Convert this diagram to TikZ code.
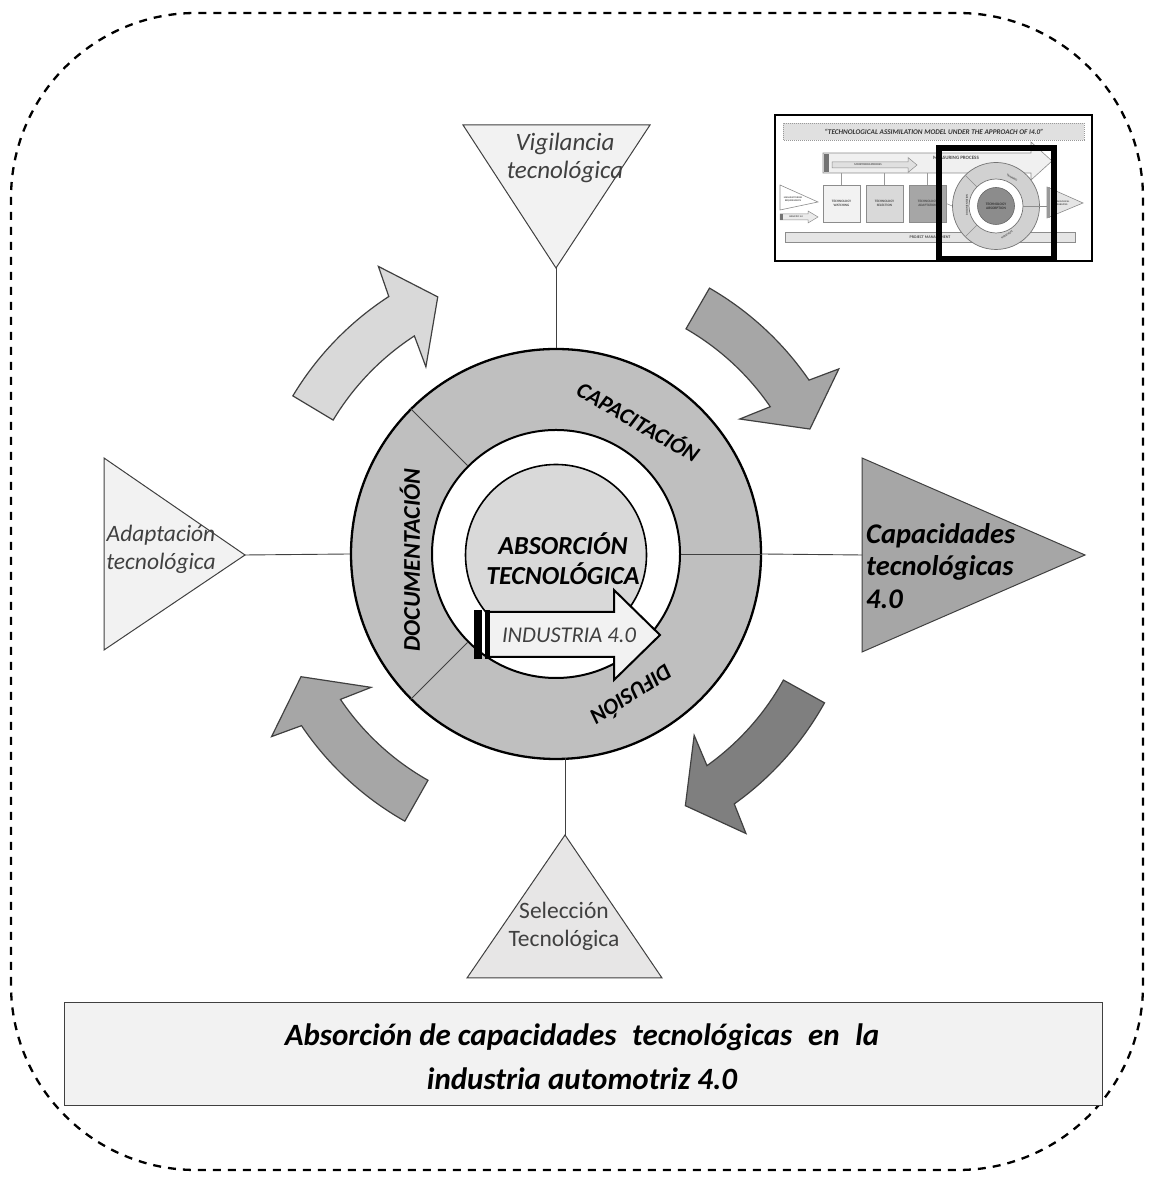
\documentclass[tikz,border=0pt]{standalone}
\usepackage{fontspec}
\setmainfont{Carlito}
\usetikzlibrary{calc}
\definecolor{ringgray}{HTML}{BFBFBF}
\definecolor{discgray}{HTML}{D9D9D9}
\definecolor{lightfill}{HTML}{F2F2F2}
\definecolor{midgray}{HTML}{A6A6A6}
\definecolor{darkfill}{HTML}{7F7F7F}
\definecolor{txtgray}{HTML}{404040}
\definecolor{selfill}{HTML}{E7E6E6}
\newcommand\mycircarrow[3]{%
  \filldraw[carrow, fill=#3] (#1:307) arc[start angle=#1,end angle=#2,radius=307]
    -- ({#2-1.3}:338) -- ({#2-8.3}:283) -- ({#2+1.8}:228) -- (#2:260)
    arc[start angle=#2,end angle=#1,radius=260] -- cycle;}
\begin{document}
\begin{tikzpicture}[x=1pt,y=1pt,
  tri/.style={draw=txtgray, line width=1pt},
  lbl/.style={font=\fontsize{23.5}{28}\selectfont\itshape, text=txtgray, align=center, inner sep=0pt},
  ringlbl/.style={font=\fontsize{22.5}{26}\selectfont\bfseries\itshape, inner sep=0pt},
  conn/.style={draw=txtgray, line width=0.9pt},
  carrow/.style={draw=txtgray, line width=1.2pt, line join=miter},
  tiny/.style={font=\fontsize{3.4}{3.8}\selectfont\bfseries, align=center, inner sep=0pt, text=black!70},
  ibox/.style={draw=black!45, line width=0.6pt, minimum width=37pt, minimum height=37pt, inner sep=0pt,
    font=\fontsize{3.4}{4}\selectfont\bfseries, align=center, text=black!70},
]
\useasboundingbox (0,0) rectangle (1154,1180);
% outer dashed frame
\draw[dash pattern=on 8pt off 7pt, line width=2.3pt, rounded corners=185pt] (11,10) rectangle (1143,1167);

% curved arrows
\begin{scope}[shift={(556,626)}]
  \mycircarrow{149}{123}{discgray}
  \mycircarrow{60}{34.5}{midgray}
  \mycircarrow{-29}{-54.5}{darkfill}
  \mycircarrow{240.5}{214}{midgray}
\end{scope}

% ring
\coordinate (C) at (556,626);
\node[circle, draw, line width=2.3pt, fill=ringgray, minimum size=410pt, inner sep=0pt] (outer) at (C) {};
\node[circle, draw, line width=2pt, fill=white, minimum size=248pt, inner sep=0pt] (inner) at (C) {};
\draw[conn] (inner.0) -- (outer.0);
\draw[conn] (inner.135) -- (outer.135);
\draw[conn] (inner.225) -- (outer.225);
\node[circle, draw, line width=1.6pt, fill=discgray, minimum size=181pt, inner sep=0pt] (disc) at (556,625) {};
\node[font=\fontsize{26}{30}\selectfont\bfseries\itshape, align=center, inner sep=0pt] (abs) at (563,621) {ABSORCIÓN\\TECNOLÓGICA};

% ring labels
\node[ringlbl, rotate=-30] (lcap) at (639,759) {CAPACITACIÓN};
\node[ringlbl, font=\fontsize{24}{26}\selectfont\bfseries\itshape, rotate=90] (ldoc) at (410,620) {DOCUMENTACIÓN};
\node[ringlbl, rotate=212.7] (ldif) at (632,484) {DIFUSIÓN};

% Industria 4.0 arrow
\filldraw[draw=black, line width=2pt, fill=lightfill, line join=miter]
  (488,568) -- (614,568) -- (614,590) -- (660,545) -- (614,500) -- (614,523) -- (488,523) -- cycle;
\fill[black] (474,521) rectangle (482,570);
\fill[black] (485,521) rectangle (490,570);
\node[font=\fontsize{22.5}{26}\selectfont\itshape, text=txtgray, inner sep=0pt] (ind) at (569,545) {INDUSTRIA 4.0};

% triangles
\coordinate (vigA) at (463,1055); \coordinate (vigB) at (650,1055); \coordinate (vigApex) at (556,912);
\filldraw[tri, fill=lightfill] (vigA) -- (vigB) -- (vigApex) -- cycle;
\node[lbl, font=\fontsize{25}{28}\selectfont\itshape] (vig) at (565,1022) {Vigilancia\\tecnológica};

\coordinate (adaA) at (104,722); \coordinate (adaB) at (104,530); \coordinate (adaApex) at (245,625);
\filldraw[tri, fill=lightfill] (adaA) -- (adaApex) -- (adaB) -- cycle;
\node[lbl] (ada) at (161,631) {Adaptación\\tecnológica};

\coordinate (capA) at (862,722); \coordinate (capB) at (862,528); \coordinate (capApex) at (1085,625);
\coordinate (capBase) at (862,625);
\filldraw[tri, fill=midgray] (capA) -- (capApex) -- (capB) -- cycle;
\node[font=\fontsize{28.5}{32.5}\selectfont\bfseries\itshape, align=left, anchor=west, inner sep=0pt] (capt) at (866,614) {Capacidades\\tecnológicas\\4.0};

\coordinate (selApex) at (565,345); \coordinate (selA) at (467,202); \coordinate (selB) at (662,202);
\filldraw[tri, fill=selfill] (selApex) -- (selB) -- (selA) -- cycle;
\node[lbl, font=\fontsize{23.5}{28}\selectfont\upshape] (sel) at (564,254) {Selección\\Tecnológica};

% connectors
\coordinate (ringB) at (565,422);
\draw[conn] (vigApex) -- (outer.90);
\draw[conn] (adaApex) -- (outer.180);
\draw[conn] (outer.0) -- (capBase);
\draw[conn] (ringB) -- (selApex);

% caption box
\node[draw=txtgray, line width=1pt, fill=lightfill, minimum width=1038pt, minimum height=103pt, inner sep=0pt] (capbox) at (583,125.5) {};
\node[font=\fontsize{31}{44}\selectfont\bfseries\itshape, align=center, inner sep=0pt] (captxt) at (582,123) {Absorción de capacidades\hspace{0.28em} tecnológicas\hspace{0.28em} en\hspace{0.28em} la\\industria automotriz 4.0};

% ===== inset =====
\draw[line width=1.3pt, fill=white] (775,919) rectangle (1092,1065);
\draw[dash pattern=on 1pt off 1pt, draw=black!40, fill=black!12, line width=0.6pt] (783,1040) rectangle (1084,1057);
\node[font=\fontsize{7.2}{8}\selectfont\bfseries\itshape, inner sep=0pt, text=black!80] (ititle) at (934,1048.5) {“TECHNOLOGICAL ASSIMILATION MODEL UNDER THE APPROACH OF I4.0”};
\draw[draw=black!45, fill=black!6, line width=0.6pt, line join=miter]
  (823,1007) -- (1031,1007) -- (1031,1000) -- (1052,1019) -- (1031,1038) -- (1031,1027) -- (823,1027) -- cycle;
\fill[black!55] (824,1008) rectangle (829,1026);
\node[tiny, font=\fontsize{5}{6}\selectfont\bfseries] (imeas) at (956,1022) {MEASURING PROCESS};
\draw[draw=black!45, fill=black!12, line width=0.5pt, line join=miter]
  (832,1012) -- (908,1012) -- (908,1007.5) -- (917,1015) -- (908,1022.5) -- (908,1018) -- (832,1018) -- cycle;
\node[tiny, font=\fontsize{2.8}{3}\selectfont\bfseries] (imon) at (868,1015) {MONITORING PROCESS};
\draw[draw=black!45, fill=black!10, line width=0.6pt] (785,938) rectangle (1075,948);
\node[tiny, font=\fontsize{4}{5}\selectfont\bfseries] (ipm) at (930,943) {PROJECT MANAGEMENT};
\node[ibox, fill=lightfill] (iw) at (841.5,976.5) {TECHNOLOGY\\WATCHING};
\node[ibox, fill=black!15] (is) at (884.5,976.5) {TECHNOLOGY\\SELECTION};
\node[ibox, fill=black!35] (ia) at (927.5,976.5) {TECHNOLOGY\\ADAPTATION};
\draw[draw=black!40, line width=0.5pt] (iw.north) -- ++(0,12);
\draw[draw=black!40, line width=0.5pt] (is.north) -- ++(0,12);
\draw[draw=black!40, line width=0.5pt] (ia.north) -- ++(0,12);
\draw[draw=black!45, fill=white, line width=0.6pt] (780,995) -- (818,978) -- (780,970) -- cycle;
\node[tiny, font=\fontsize{2.4}{2.8}\selectfont\bfseries] (iman) at (793,981) {MANUFACTURING\\REQUIREMENTS};
\draw[draw=black!45, fill=black!8, line width=0.5pt, line join=miter]
  (780,966) -- (808,966) -- (808,969) -- (818,963) -- (808,957) -- (808,960) -- (780,960) -- cycle;
\fill[black!55] (780,960) rectangle (783,966);
\node[tiny, font=\fontsize{2.4}{2.8}\selectfont\bfseries] (iind) at (796,963) {INDUSTRY 4.0};
\node[circle, draw=black!55, fill=black!18, line width=0.7pt, minimum size=87pt, inner sep=0pt] (iring) at (996,974) {};
\node[circle, draw=black!55, fill=white, line width=0.7pt, minimum size=54pt, inner sep=0pt] (iringin) at (996,974) {};
\draw[draw=black!45, line width=0.5pt] (iringin.135) -- (iring.135);
\draw[draw=black!45, line width=0.5pt] (iringin.225) -- (iring.225);
\draw[draw=black!45, line width=0.5pt] (iringin.0) -- (iring.0);
\draw[draw=black!45, line width=0.5pt] (ia.east) -- (iring.west);
\node[circle, draw=black!60, fill=black!45, line width=0.6pt, minimum size=37pt, inner sep=0pt,
  font=\fontsize{3.6}{4.2}\selectfont\bfseries, align=center, text=black!80] (idisc) at (996,974) {TECHNOLOGY\\ABSORPTION};
\node[tiny, rotate=-30, font=\fontsize{2.8}{3}\selectfont\bfseries] (itr) at (1012,1002) {TRAINING};
\node[tiny, rotate=90, font=\fontsize{2.8}{3}\selectfont\bfseries] (idoc) at (967,975) {DOCUMENTATION};
\node[tiny, rotate=212, font=\fontsize{2.8}{3}\selectfont\bfseries] (idif) at (1007,945) {DIFFUSION};
\coordinate (iout) at (1047,974);
\draw[draw=black!45, line width=0.5pt] (iring.east) -- (iout);
\draw[draw=black!45, fill=black!10, line width=0.6pt] (1047,993) -- (1083,977) -- (1047,962) -- cycle;
\fill[black!40] (1047,962) rectangle (1050,993);
\node[tiny, font=\fontsize{2.4}{2.8}\selectfont\bfseries] (icap) at (1061,977) {TECHNOLOGICAL\\CAPABILITIES};
\draw[line width=6pt] (939,921) rectangle (1054,1032);
\end{tikzpicture}
\end{document}
